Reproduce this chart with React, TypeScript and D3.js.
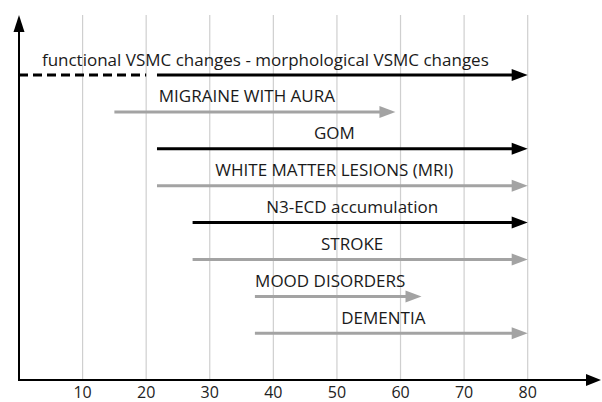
import React from "react";
import * as d3 from "d3";

const W = 602;
const H = 402;

const xTicks = [10, 20, 30, 40, 50, 60, 70, 80];
const labels = [
  "functional VSMC changes - morphological VSMC changes",
  "MIGRAINE WITH AURA",
  "GOM",
  "WHITE MATTER LESIONS (MRI)",
  "N3-ECD accumulation",
  "STROKE",
  "MOOD DISORDERS",
  "DEMENTIA",
];
const starts = [21.7, 15, 21.7, 21.7, 27.3, 27.3, 37.1, 37.1];
const ends = [80, 59.2, 80, 80, 80, 80, 63.3, 80];
const kinds = ["black", "grey", "black", "grey", "black", "grey", "grey", "grey"];
// dashed lead-in for the first row (from 0 to 20)
const dashedFrom = [0, null, null, null, null, null, null, null];
const dashedTo = [20, null, null, null, null, null, null, null];

const colors: Record<string, string> = { black: "#000000", grey: "#a3a3a3" };

export default function App() {
  const x0 = 19;
  const unit = (527.7 - 19) / 80;
  const x = d3.scaleLinear().domain([0, 80]).range([x0, x0 + unit * 80]);
  const y = d3
    .scalePoint<number>()
    .domain(labels.map((_, i) => i))
    .range([75, 333.3]);

  const axisY = 380;
  const gridTop = 15;
  const headLen = 16;
  const headHalf = 6;
  const font = "'Open Sans', sans-serif";

  return (
    <svg
      width={W}
      height={H}
      style={{ position: "absolute", left: 0, top: 0, background: "#fff" }}
    >
      {/* gridlines */}
      {xTicks.map((t) => (
        <line
          key={"g" + t}
          x1={x(t)}
          x2={x(t)}
          y1={gridTop}
          y2={axisY}
          stroke="#cfcfcf"
          strokeWidth={1.2}
        />
      ))}
      {/* axes */}
      <line x1={x(0)} x2={588} y1={axisY} y2={axisY} stroke="#000" strokeWidth={2} />
      <path d={`M601,${axisY} L586,${axisY - 6} L586,${axisY + 6} Z`} fill="#000" />
      <line x1={x(0)} x2={x(0)} y1={axisY + 1} y2={30} stroke="#000" strokeWidth={2} />
      <path d={`M${x(0)},15 L${x(0) - 5.5},32 L${x(0) + 5.5},32 Z`} fill="#000" />
      {/* tick labels */}
      {xTicks.map((t) => (
        <text
          key={"t" + t}
          x={x(t)}
          y={397.5}
          textAnchor="middle"
          fontFamily={font}
          fontSize={16}
          fill="#222"
        >
          {t}
        </text>
      ))}
      {/* rows */}
      {labels.map((lab, i) => {
        const yy = y(i)!;
        const col = colors[kinds[i]];
        const xs = x(starts[i]);
        const xe = x(ends[i]);
        const left = dashedFrom[i] !== null ? x(dashedFrom[i] as number) : xs;
        const cx = (left + xe - headLen) / 2;
        return (
          <g key={lab}>
            {dashedFrom[i] !== null && (
              <line
                x1={x(dashedFrom[i] as number)}
                x2={x(dashedTo[i] as number)}
                y1={yy}
                y2={yy}
                stroke={col}
                strokeWidth={3}
                strokeDasharray="9,5"
              />
            )}
            <line x1={xs} x2={xe - headLen + 1} y1={yy} y2={yy} stroke={col} strokeWidth={3} />
            <path
              d={`M${xe},${yy} L${xe - headLen},${yy - headHalf} L${xe - headLen},${yy + headHalf} Z`}
              fill={col}
            />
            <text
              x={cx}
              y={yy - 9.5}
              textAnchor="middle"
              fontFamily={font}
              fontSize={17}
              fill="#1a1a1a"
            >
              {lab}
            </text>
          </g>
        );
      })}
    </svg>
  );
}
